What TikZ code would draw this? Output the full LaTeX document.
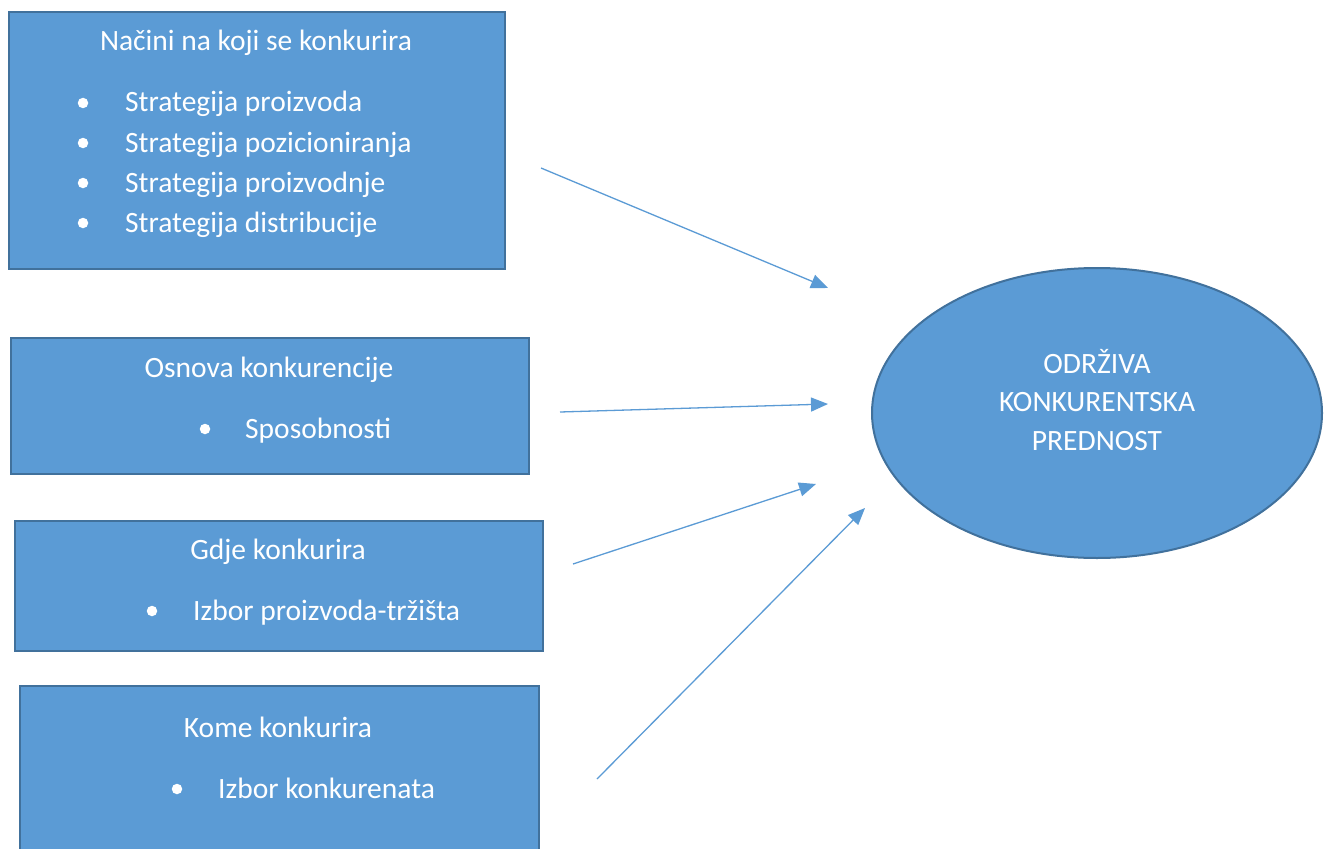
\documentclass[tikz,border=0pt]{standalone}
\usepackage{fontspec}
\setmainfont{Carlito}
\usetikzlibrary{arrows.meta,shapes.geometric}
\definecolor{boxfill}{HTML}{5B9BD5}
\definecolor{boxline}{HTML}{41719C}
\tikzset{
  box/.style={draw=boxline, fill=boxfill, line width=2pt, rectangle, anchor=north west, inner sep=0pt},
  title/.style={text=white, anchor=base, inner sep=0pt, font=\fontsize{29.5}{35}\selectfont},
  item/.style={text=white, anchor=base west, inner sep=0pt, font=\fontsize{29.5}{35}\selectfont},
  dot/.style={circle, fill=white, minimum size=10.5pt, inner sep=0pt},
  conn/.style={draw=boxfill, line width=1.3pt, -{Triangle[length=17pt,width=14pt]}}
}
\begin{document}
\begin{tikzpicture}[x=1pt,y=-1pt]
\useasboundingbox (0,0) rectangle (1329,848);
\fill[white] (0,0) rectangle (1329,848);
\begin{scope}
\clip (0,0) rectangle (1329,848);
% boxes
\node[box, minimum width=496pt, minimum height=257pt] (b1) at (8,11) {};
\node[box, minimum width=518pt, minimum height=136pt] (b2) at (10,337) {};
\node[box, minimum width=528pt, minimum height=130pt] (b3) at (14,520) {};
\node[box, minimum width=519pt, minimum height=200pt] (b4) at (19,685) {};
\end{scope}
% ellipse
\node[ellipse, draw=boxline, fill=boxfill, line width=2pt, minimum width=450pt, minimum height=290pt, inner sep=0pt] (e) at (1097,413) {};
\node[title] (e1t) at (1097,373) {ODRŽIVA};
\node[title] (e2t) at (1097,411.5) {KONKURENTSKA};
\node[title] (e3t) at (1097,450) {PREDNOST};
% box 1
\node[title] (t1) at (256,51) {Načini na koji se konkurira};
\node[dot] (d11) at (83,103) {};
\node[item] (i11) at (125,112) {Strategija proizvoda};
\node[dot] (d12) at (83,143) {};
\node[item] (i12) at (125,152) {Strategija pozicioniranja};
\node[dot] (d13) at (83,183) {};
\node[item] (i13) at (125,192) {Strategija proizvodnje};
\node[dot] (d14) at (83,223) {};
\node[item] (i14) at (125,232) {Strategija distribucije};
% box 2
\node[title] (t2) at (269,377) {Osnova konkurencije};
\node[dot] (d21) at (205,429) {};
\node[item] (i21) at (245,438) {Sposobnosti};
% box 3
\node[title] (t3) at (278,559) {Gdje konkurira};
\node[dot] (d31) at (152,611) {};
\node[item] (i31) at (193,620) {Izbor proizvoda-tržišta};
% box 4
\node[title] (t4) at (278,737) {Kome konkurira};
\node[dot] (d41) at (177,789) {};
\node[item] (i41) at (218,798) {Izbor konkurenata};
% arrows
\coordinate (s1) at (541,168);
\coordinate (e1) at (828,288);
\coordinate (s2) at (560,412);
\coordinate (e2) at (828,404);
\coordinate (s3) at (573,564);
\coordinate (e3) at (816,484);
\coordinate (s4) at (597,779);
\coordinate (e4) at (865,508);
\draw[conn] (s1) -- (e1);
\draw[conn] (s2) -- (e2);
\draw[conn] (s3) -- (e3);
\draw[conn] (s4) -- (e4);
\end{tikzpicture}
\end{document}
